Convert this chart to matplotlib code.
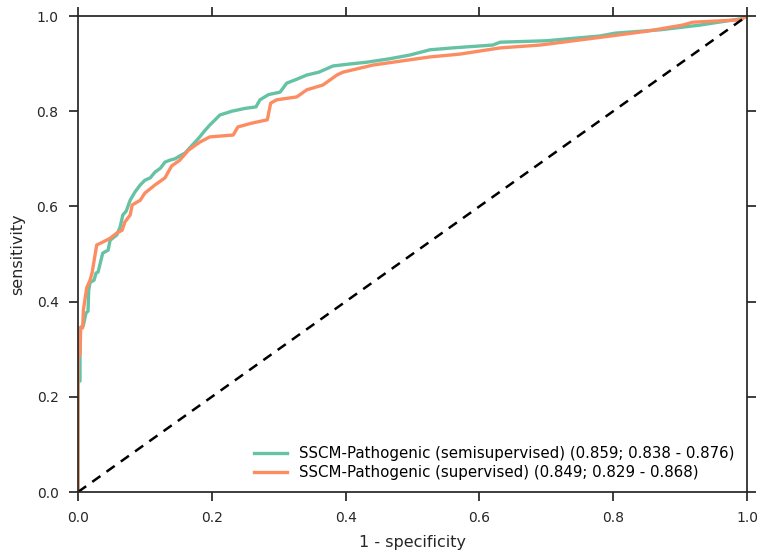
import numpy as np
import matplotlib
matplotlib.use('Agg')
import matplotlib.pyplot as plt

# ROC vertices (1 - specificity, sensitivity)
semi_fpr = [0.0, 0.0, 0.003, 0.003, 0.008, 0.012, 0.015, 0.016, 0.018, 0.024, 0.027, 0.030,
            0.034, 0.037, 0.045, 0.048, 0.058, 0.063, 0.067, 0.072, 0.078, 0.085, 0.093,
            0.100, 0.108, 0.115, 0.123, 0.130, 0.137, 0.145, 0.152, 0.160, 0.167, 0.175,
            0.182, 0.190, 0.197, 0.205, 0.212, 0.230, 0.250, 0.266, 0.272, 0.285, 0.302,
            0.312, 0.325, 0.342, 0.360, 0.381, 0.405, 0.432, 0.465, 0.496, 0.526, 0.560,
            0.620, 0.631, 0.700, 0.780, 0.803, 0.870, 0.930, 0.990, 1.0]
semi_tpr = [0.0, 0.233, 0.233, 0.345, 0.350, 0.376, 0.380, 0.424, 0.440, 0.445, 0.460, 0.462,
            0.485, 0.502, 0.508, 0.529, 0.540, 0.557, 0.582, 0.590, 0.613, 0.630, 0.645,
            0.655, 0.660, 0.672, 0.680, 0.693, 0.697, 0.700, 0.706, 0.712, 0.723, 0.735,
            0.746, 0.760, 0.771, 0.782, 0.792, 0.800, 0.806, 0.809, 0.824, 0.835, 0.840,
            0.859, 0.866, 0.876, 0.882, 0.895, 0.899, 0.903, 0.910, 0.918, 0.929, 0.933,
            0.939, 0.945, 0.948, 0.958, 0.964, 0.971, 0.981, 0.994, 1.0]

sup_fpr = [0.0, 0.0, 0.003, 0.004, 0.007, 0.008, 0.013, 0.018, 0.021, 0.025, 0.028, 0.037,
           0.048, 0.058, 0.066, 0.070, 0.078, 0.081, 0.093, 0.100, 0.115, 0.130, 0.140,
           0.152, 0.165, 0.182, 0.197, 0.232, 0.239, 0.260, 0.283, 0.288, 0.297, 0.327,
           0.342, 0.366, 0.387, 0.396, 0.441, 0.471, 0.526, 0.571, 0.631, 0.691, 0.785,
           0.850, 0.904, 0.919, 0.990, 1.0]
sup_tpr = [0.0, 0.280, 0.290, 0.345, 0.345, 0.382, 0.429, 0.445, 0.460, 0.494, 0.519, 0.525,
           0.533, 0.544, 0.550, 0.567, 0.582, 0.603, 0.613, 0.628, 0.645, 0.660, 0.685,
           0.697, 0.718, 0.735, 0.746, 0.750, 0.767, 0.775, 0.782, 0.817, 0.824, 0.830,
           0.845, 0.855, 0.876, 0.882, 0.897, 0.903, 0.914, 0.920, 0.933, 0.939, 0.956,
           0.968, 0.981, 0.987, 0.992, 1.0]

labels = ['SSCM-Pathogenic (semisupervised) (0.859; 0.838 - 0.876)',
          'SSCM-Pathogenic (supervised) (0.849; 0.829 - 0.868)']
colors = ['#66c2a5', '#fc8d62']

ticks = [0.0, 0.2, 0.4, 0.6, 0.8, 1.0]
tick_labels = ['0.0', '0.2', '0.4', '0.6', '0.8', '1.0']

fig = plt.figure(figsize=(7.61, 5.54), dpi=100)
ax = fig.add_axes([0.1025, 0.1119, 0.8791, 0.8592])

ax.plot(semi_fpr, semi_tpr, color=colors[0], lw=2.4, label=labels[0])
ax.plot(sup_fpr, sup_tpr, color=colors[1], lw=2.4, label=labels[1])
ax.plot([0, 1], [0, 1], color='black', lw=1.8, ls=(0, (4, 3)))

ax.set_xlim(0, 1)
ax.set_ylim(0, 1)
ax.set_xticks(ticks)
ax.set_xticklabels(tick_labels)
ax.set_yticks(ticks)
ax.set_yticklabels(tick_labels)
ax.set_xlabel('1 - specificity', fontsize=11.5, color='#262626', labelpad=7)
ax.set_ylabel('sensitivity', fontsize=11.5, color='#262626', labelpad=8)

for side in ax.spines:
    ax.spines[side].set_color('#262626')
    ax.spines[side].set_linewidth(1.25)
ax.tick_params(which='both', direction='out', length=6.5, width=1.25, color='#262626',
               labelsize=10, labelcolor='#262626', top=True, right=True, pad=7.5)

ax.legend(loc='lower right', frameon=False, fontsize=10.8, handlelength=2.2,
          borderaxespad=0.4, labelspacing=0.28)

plt.savefig('out.png', dpi=100)
